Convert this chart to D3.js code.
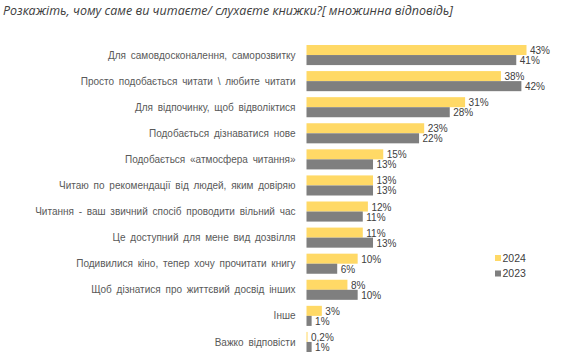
<!DOCTYPE html>
<html><head><meta charset="utf-8">
<script src="https://cdn.jsdelivr.net/npm/d3@7"></script>
<style>body{margin:0;background:#fff}svg{display:block}</style>
</head><body>
<svg id="c" width="572" height="360"></svg>
<script>
const categories = [
  "Для самовдосконалення, саморозвитку",
  "Просто подобається читати \\ любите читати",
  "Для відпочинку, щоб відволіктися",
  "Подобається дізнаватися нове",
  "Подобається «атмосфера читання»",
  "Читаю по рекомендації від людей, яким довіряю",
  "Читання - ваш звичний спосіб проводити вільний час",
  "Це доступний для мене вид дозвілля",
  "Подивилися кіно, тепер хочу прочитати книгу",
  "Щоб дізнатися про життєвий досвід інших",
  "Інше",
  "Важко відповісти"
];
const values2024 = [43, 38, 31, 23, 15, 13, 12, 11, 10, 8, 3, 0.2];
const values2023 = [41, 42, 28, 22, 13, 13, 11, 13, 6, 10, 1, 1];
const labels2024 = ["43%","38%","31%","23%","15%","13%","12%","11%","10%","8%","3%","0,2%"];
const labels2023 = ["41%","42%","28%","22%","13%","13%","11%","13%","6%","10%","1%","1%"];
const seriesNames = ["2024", "2023"];
const colors = ["#FFD966", "#7F7F7F"];

const svg = d3.select("#c");
const x0 = 306.5;
const x = d3.scaleLinear().domain([0, 43]).range([x0, 526.5]);
const y = d3.scaleBand().domain(categories).range([42, 355]).paddingInner(0.23).paddingOuter(0.115);
const ys = d3.scaleBand().domain(seriesNames).range([0, y.bandwidth()]);

svg.append("text").attr("x", 3).attr("y", 15)
  .attr("font-family", "Open Sans, sans-serif").attr("font-style", "italic")
  .attr("font-size", 13.5).attr("fill", "#404040")
  .attr("textLength", 450).attr("lengthAdjust", "spacingAndGlyphs")
  .text("Розкажіть, чому саме ви читаєте/ слухаєте книжки?[ множинна відповідь]");

const g = svg.append("g");
const series = [values2024, values2023];
const slabels = [labels2024, labels2023];
seriesNames.forEach((s, si) => {
  g.selectAll(".b" + si).data(categories).enter().append("rect")
    .attr("x", x0)
    .attr("y", d => y(d) + ys(s))
    .attr("width", (d, i) => x(series[si][i]) - x0)
    .attr("height", ys.bandwidth())
    .attr("fill", colors[si]);
  g.selectAll(".l" + si).data(categories).enter().append("text")
    .attr("x", (d, i) => x(series[si][i]) + 3.5)
    .attr("y", d => y(d) + ys(s) + ys.bandwidth() / 2 + 0.5)
    .attr("dy", "0.35em")
    .attr("font-family", "Liberation Sans, Arial, sans-serif")
    .attr("font-size", 10).attr("fill", "#404040")
    .text((d, i) => slabels[si][i]);
});

g.selectAll(".cat").data(categories).enter().append("text")
  .attr("x", 295.5)
  .attr("y", d => y(d) + y.bandwidth() / 2)
  .attr("dy", "0.36em")
  .attr("text-anchor", "end")
  .attr("font-family", "Liberation Sans, Arial, sans-serif")
  .attr("font-size", 10).attr("fill", "#595959")
  .attr("word-spacing", 2)
  .text(d => d);

const leg = svg.append("g");
seriesNames.forEach((s, i) => {
  const ly = 258 + i * 15.5;
  leg.append("rect").attr("x", 495).attr("y", ly - 3).attr("width", 6).attr("height", 6).attr("fill", colors[i]);
  leg.append("text").attr("x", 502.5).attr("y", ly).attr("dy", "0.36em")
    .attr("font-family", "Liberation Sans, Arial, sans-serif")
    .attr("font-size", 10.5).attr("fill", "#404040").text(s);
});
</script>
</body></html>
